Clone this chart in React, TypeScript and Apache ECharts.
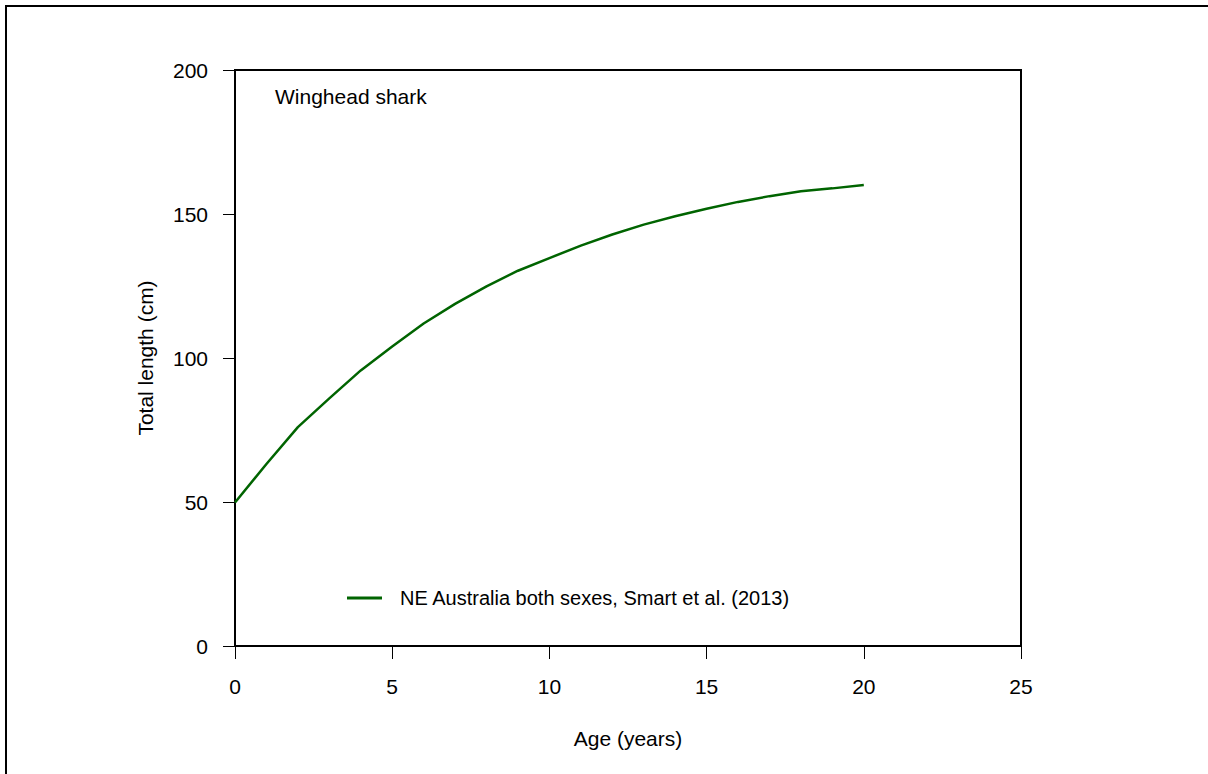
import React, { useEffect, useRef } from "react";
import * as echarts from "echarts";

const ages = [0, 1, 2, 3, 4, 5, 6, 7, 8, 9, 10, 11, 12, 13, 14, 15, 16, 17, 18, 19, 20];
const lengths = [
  49.8, 63.2, 76.0, 86.0, 95.7, 104.0, 112.0, 118.8, 124.9, 130.3, 134.7, 139.0, 142.9,
  146.3, 149.2, 151.8, 154.2, 156.2, 157.9, 158.9, 160.1,
];
const seriesName = "NE Australia both sexes, Smart et al. (2013)";
const speciesLabel = "Winghead shark";
const xTitle = "Age (years)";
const yTitle = "Total length (cm)";

const FONT = "'Liberation Sans', Arial, sans-serif";

export default function App() {
  const ref = useRef<HTMLDivElement>(null);
  useEffect(() => {
    if (!ref.current) return;
    const chart = echarts.init(ref.current, undefined, { renderer: "svg" });
    const data = ages.map((a, i) => [a, lengths[i]]);
    chart.setOption({
      animation: false,
      backgroundColor: "#ffffff",
      textStyle: { fontFamily: FONT, color: "#000" },
      grid: {
        left: 235,
        top: 70,
        right: 187,
        bottom: 128,
        show: true,
        borderColor: "#000",
        borderWidth: 2,
        backgroundColor: "transparent",
      },
      xAxis: {
        type: "value",
        min: 0,
        max: 25,
        interval: 5,
        name: xTitle,
        nameLocation: "middle",
        nameGap: 82,
        nameTextStyle: { fontSize: 21, color: "#000", fontFamily: FONT },
        axisLine: { show: true, onZero: false, lineStyle: { color: "#000", width: 2 } },
        axisTick: { show: true, inside: false, length: 13, lineStyle: { color: "#000", width: 1 } },
        axisLabel: { fontSize: 21, color: "#000", margin: 30, fontFamily: FONT },
        splitLine: { show: false },
      },
      yAxis: {
        type: "value",
        min: 0,
        max: 200,
        interval: 50,
        name: yTitle,
        nameLocation: "middle",
        nameGap: 79,
        nameRotate: 90,
        nameTextStyle: { fontSize: 21, color: "#000", fontFamily: FONT },
        axisLine: { show: true, onZero: false, lineStyle: { color: "#000", width: 2 } },
        axisTick: { show: true, inside: false, length: 12, lineStyle: { color: "#000", width: 1 } },
        axisLabel: { fontSize: 21, color: "#000", margin: 27, fontFamily: FONT },
        splitLine: { show: false },
      },
      legend: {
        show: true,
        left: 342,
        top: 583,
        itemWidth: 35,
        itemHeight: 3,
        icon: "rect",
        textStyle: { fontSize: 20, color: "#000", fontFamily: FONT, padding: [0, 0, 0, 13] },
        data: [seriesName],
      },
      graphic: [
        {
          type: "rect",
          shape: { x: 6, y: 6, width: 1400, height: 1000 },
          style: { fill: "none", stroke: "#000", lineWidth: 2 },
          silent: true,
        },
        {
          type: "text",
          left: 275,
          top: 86,
          style: { text: speciesLabel, fontSize: 21, fill: "#000", fontFamily: FONT },
        },
      ],
      series: [
        {
          name: seriesName,
          type: "line",
          data,
          showSymbol: false,
          symbol: "none",
          smooth: false,
          lineStyle: { color: "#006400", width: 2.5 },
          itemStyle: { color: "#006400" },
        },
      ],
    });
    return () => chart.dispose();
  }, []);
  return (
    <div
      ref={ref}
      style={{ position: "absolute", left: 0, top: 0, width: 1208, height: 774 }}
    />
  );
}
